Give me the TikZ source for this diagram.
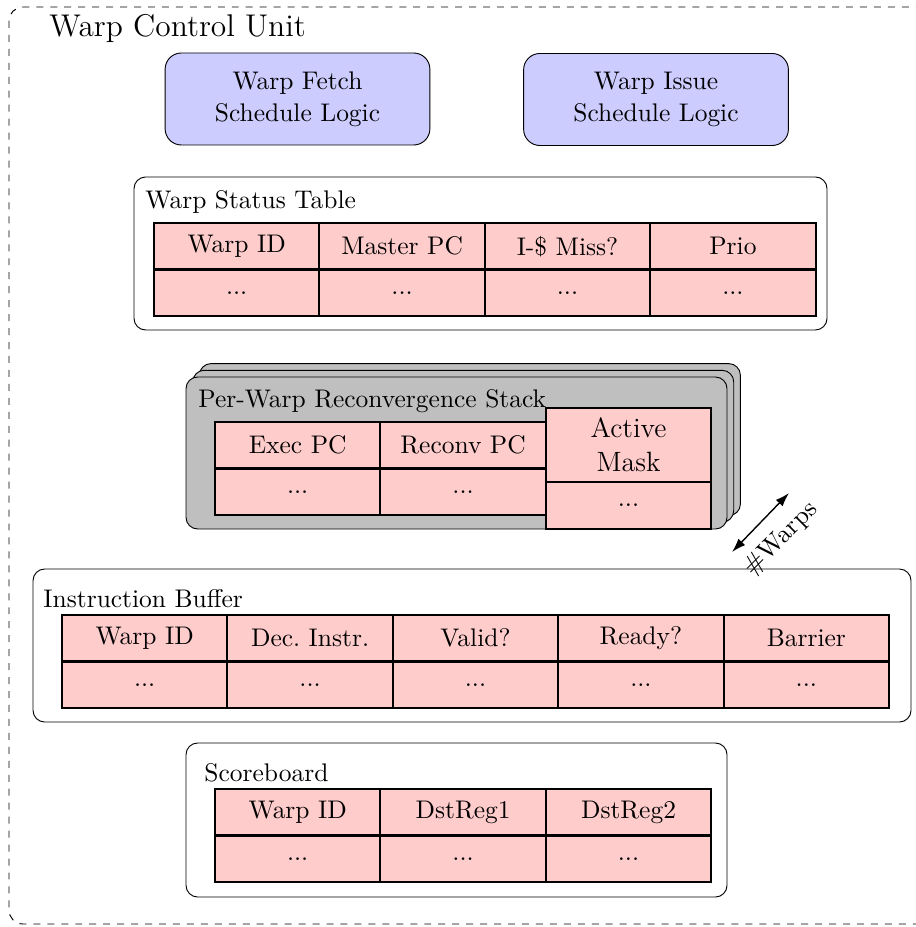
\documentclass[tikz,border=0pt]{standalone}
\usetikzlibrary{arrows.meta}
\begin{document}
\begin{tikzpicture}[x=0.015106cm,y=-0.015106cm,
  font=\fontsize{10.95}{13.6}\selectfont,
  cell/.style={draw=black, thick, fill=red!20, minimum width=2.5cm,
    minimum height=0.7cm, inner sep=0pt, outer sep=0pt},
  panel/.style={draw=black, rounded corners=5pt, fill=white},
  stackpanel/.style={draw=black, rounded corners=5pt, fill=lightgray},
  sched/.style={draw=black, rounded corners=7pt, fill=blue!20,
    minimum width=4cm, minimum height=1.39cm, align=center},
  caption/.style={anchor=base west, inner sep=0pt}]
\useasboundingbox (0,0) rectangle (915,927);

% enclosing unit
\draw[black, dashed, rounded corners=6pt] (9,7) rectangle (940,924);
\node[caption, font=\fontsize{13.5}{16}\selectfont] (wcu) at (49,37) {Warp Control Unit};

% schedulers
\node[sched] (fetch) at (297.5,99) {Warp Fetch\\Schedule Logic};
\node[sched] (issue) at (656,99.5) {Warp Issue\\Schedule Logic};

% warp status table
\draw[panel] (134,177) rectangle (827,330);
\node[caption] (wstl) at (145,209) {Warp Status Table};
\node[cell] (st-h1) at (236.7,246.25) {Warp ID};
\node[cell] (st-h2) at (402.1,246.25) {Master PC};
\node[cell] (st-h3) at (567.5,246.25) {I-\$ Miss?};
\node[cell] (st-h4) at (732.9,246.25) {Prio};
\node[cell] (st-b1) at (236.7,292.75) {...};
\node[cell] (st-b2) at (402.1,292.75) {...};
\node[cell] (st-b3) at (567.5,292.75) {...};
\node[cell] (st-b4) at (732.9,292.75) {...};

% per-warp reconvergence stack (stacked copies)
\draw[stackpanel] (199.4,363.6) rectangle (740.4,515.6);
\draw[stackpanel] (192.7,370.3) rectangle (733.7,522.3);
\draw[stackpanel] (186,377) rectangle (727,529);
\node[caption] (rsl) at (198,408) {Per-Warp Reconvergence Stack};
\node[cell] (rs-h1) at (297.7,445.25) {Exec PC};
\node[cell] (rs-h2) at (463.1,445.25) {Reconv PC};
\node[cell] (rs-b1) at (297.7,491.75) {...};
\node[cell] (rs-b2) at (463.1,491.75) {...};
\node[cell, minimum height=1.12cm, align=center,
  font=\fontsize{12}{14.5}\selectfont] (rs-h3) at (628.5,445) {Active\\Mask};
\node[cell] (rs-b3) at (628.5,505.5) {...};

% instruction buffer
\draw[panel] (33,569) rectangle (911,722);
\node[caption] (ibl) at (43,607) {Instruction Buffer};
\node[cell] (ib-h1) at (144.7,638.25) {Warp ID};
\node[cell] (ib-h2) at (310.1,638.25) {Dec.\ Instr.};
\node[cell] (ib-h3) at (475.5,638.25) {Valid?};
\node[cell] (ib-h4) at (640.9,638.25) {Ready?};
\node[cell] (ib-h5) at (806.3,638.25) {Barrier};
\node[cell] (ib-b1) at (144.7,684.75) {...};
\node[cell] (ib-b2) at (310.1,684.75) {...};
\node[cell] (ib-b3) at (475.5,684.75) {...};
\node[cell] (ib-b4) at (640.9,684.75) {...};
\node[cell] (ib-b5) at (806.3,684.75) {...};

% number of warps
\coordinate (wlo) at (732,552);
\coordinate (whi) at (789,493);
\draw[{Latex[length=6pt,width=4pt]}-{Latex[length=6pt,width=4pt]}, semithick] (wlo) -- (whi);
\node[rotate=45, inner sep=0pt] (warps) at (781,539) {\#Warps};

% scoreboard
\draw[panel] (186,743) rectangle (727,897);
\node[caption] (sbl) at (204,781) {Scoreboard};
\node[cell] (sb-h1) at (297.7,812.25) {Warp ID};
\node[cell] (sb-h2) at (463.1,812.25) {DstReg1};
\node[cell] (sb-h3) at (628.5,812.25) {DstReg2};
\node[cell] (sb-b1) at (297.7,858.75) {...};
\node[cell] (sb-b2) at (463.1,858.75) {...};
\node[cell] (sb-b3) at (628.5,858.75) {...};
\end{tikzpicture}
\end{document}
